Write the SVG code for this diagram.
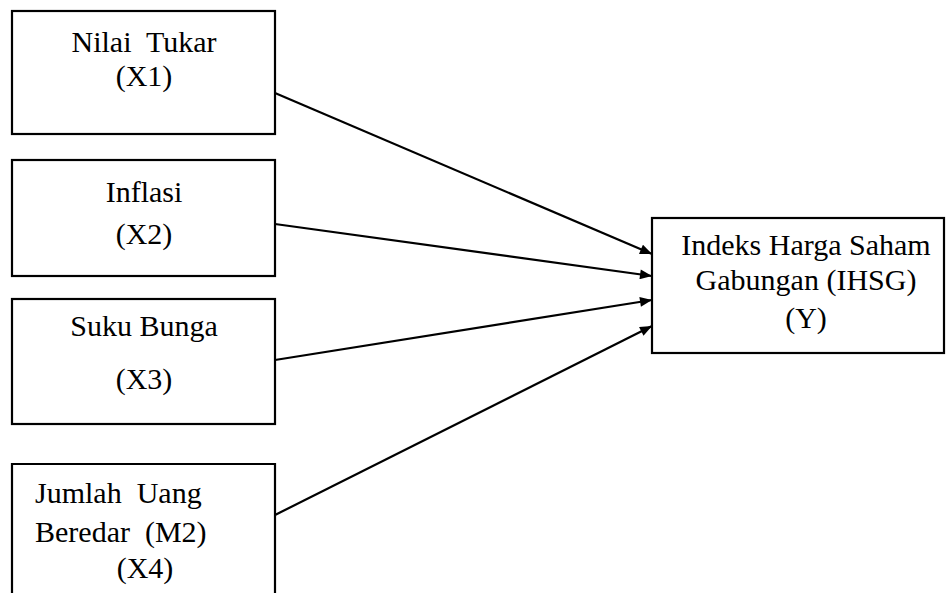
<svg xmlns="http://www.w3.org/2000/svg" width="946" height="593" viewBox="0 0 946 593">
<style>
.box{fill:#fff;stroke:#000;stroke-width:2.2}
.t{font-family:"Liberation Serif","Times New Roman",serif;font-size:30px;fill:#000}
.c{text-anchor:middle}
.edge{stroke:#000;stroke-width:2.2;fill:none;marker-end:url(#ah)}
</style>
<defs>
<marker id="ah" viewBox="0 0 12 10" refX="12" refY="5" markerWidth="13" markerHeight="10" markerUnits="userSpaceOnUse" orient="auto">
<path d="M0,0 L12,5 L0,10 z" fill="#000"/>
</marker>
</defs>
<rect width="946" height="593" fill="#fff"/>
<g id="n-x1">
<rect class="box" x="12" y="11" width="263" height="123"/>
<text class="t c" x="144" y="52" xml:space="preserve">Nilai  Tukar</text>
<text class="t c" x="144" y="86">(X1)</text>
</g>
<g id="n-x2">
<rect class="box" x="12" y="160" width="263" height="116"/>
<text class="t c" x="144" y="202">Inflasi</text>
<text class="t c" x="144" y="244">(X2)</text>
</g>
<g id="n-x3">
<rect class="box" x="12" y="299" width="263" height="125"/>
<text class="t c" x="144" y="336">Suku Bunga</text>
<text class="t c" x="144" y="389">(X3)</text>
</g>
<g id="n-x4">
<path class="box" d="M12,600 L12,464 L275,464 L275,600"/>
<text class="t" x="35" y="503" xml:space="preserve">Jumlah  Uang</text>
<text class="t" x="35" y="542" xml:space="preserve">Beredar  (M2)</text>
<text class="t c" x="145" y="578">(X4)</text>
</g>
<g id="n-y">
<rect class="box" x="652" y="218" width="292" height="135"/>
<text class="t c" x="806" y="255">Indeks Harga Saham</text>
<text class="t c" x="806" y="290">Gabungan (IHSG)</text>
<text class="t c" x="806" y="328">(Y)</text>
</g>
<g id="connectors">
<line class="edge" x1="275" y1="93" x2="652" y2="254"/>
<line class="edge" x1="275" y1="224" x2="652" y2="276"/>
<line class="edge" x1="275" y1="360" x2="652" y2="300"/>
<line class="edge" x1="275" y1="515" x2="652" y2="326"/>
</g>
</svg>
